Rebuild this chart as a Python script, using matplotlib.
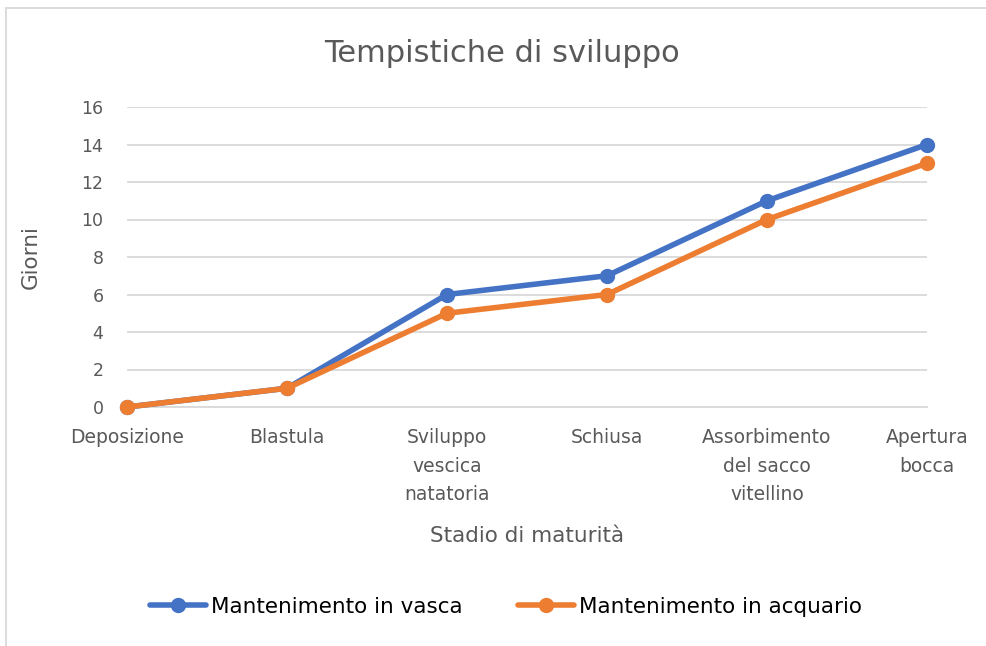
import matplotlib.pyplot as plt
from matplotlib.patches import Rectangle

stadi = ['Deposizione', 'Blastula', 'Sviluppo\nvescica\nnatatoria', 'Schiusa',
         'Assorbimento\ndel sacco\nvitellino', 'Apertura\nbocca']
vasca = [0, 1, 6, 7, 11, 14]
acquario = [0, 1, 5, 6, 10, 13]
yticks = [0, 2, 4, 6, 8, 10, 12, 14, 16]

grigio = '#595959'

fig = plt.figure(figsize=(9.87, 6.46), dpi=100)
ax = fig.add_axes([127/987, 1 - 407/646, 800/987, 300/646])

x = list(range(len(stadi)))
ax.plot(x, vasca, color='#4472C4', lw=4, marker='o', ms=10, label='Mantenimento in vasca',
        solid_capstyle='round', clip_on=False, zorder=3)
ax.plot(x, acquario, color='#ED7D31', lw=4, marker='o', ms=10, label='Mantenimento in acquario',
        solid_capstyle='round', clip_on=False, zorder=4)

ax.set_xlim(0, 5)
ax.set_ylim(0, 16)
ax.set_yticks(yticks)
ax.set_xticks(x)
ax.set_xticklabels(stadi, linespacing=1.65)
ax.grid(axis='y', color='#D9D9D9', lw=1.3)
ax.set_axisbelow(True)
for s in ['top', 'right', 'left']:
    ax.spines[s].set_visible(False)
ax.spines['bottom'].set_color('#D9D9D9')
ax.spines['bottom'].set_linewidth(1.3)
ax.tick_params(axis='both', length=0, colors=grigio)
ax.tick_params(axis='y', pad=17, labelsize=12.5)
ax.tick_params(axis='x', pad=15, labelsize=13.5)

fig.text(502/987, 1 - 53/646, 'Tempistiche di sviluppo', fontsize=22, color=grigio,
         ha='center', va='center')
ax.set_ylabel('Giorni', fontsize=15.5, color=grigio)
ax.yaxis.set_label_coords(-86/800, 0.5)
ax.set_xlabel('Stadio di maturità', fontsize=15.5, color=grigio)
ax.xaxis.set_label_coords(400/800, -(526 - 407)/300)

fig.legend(loc='center', bbox_to_anchor=(506/987, 1 - 607/646), ncol=2, frameon=False,
           fontsize=15.5, handlelength=2.6, columnspacing=2.6, handletextpad=0.2)

fig.patches.append(Rectangle((6/987, -0.1), 1.1, 1.1 - 8/646, transform=fig.transFigure,
                             fill=False, edgecolor='#D9D9D9', lw=1.3))

fig.savefig('out.png', dpi=100)
